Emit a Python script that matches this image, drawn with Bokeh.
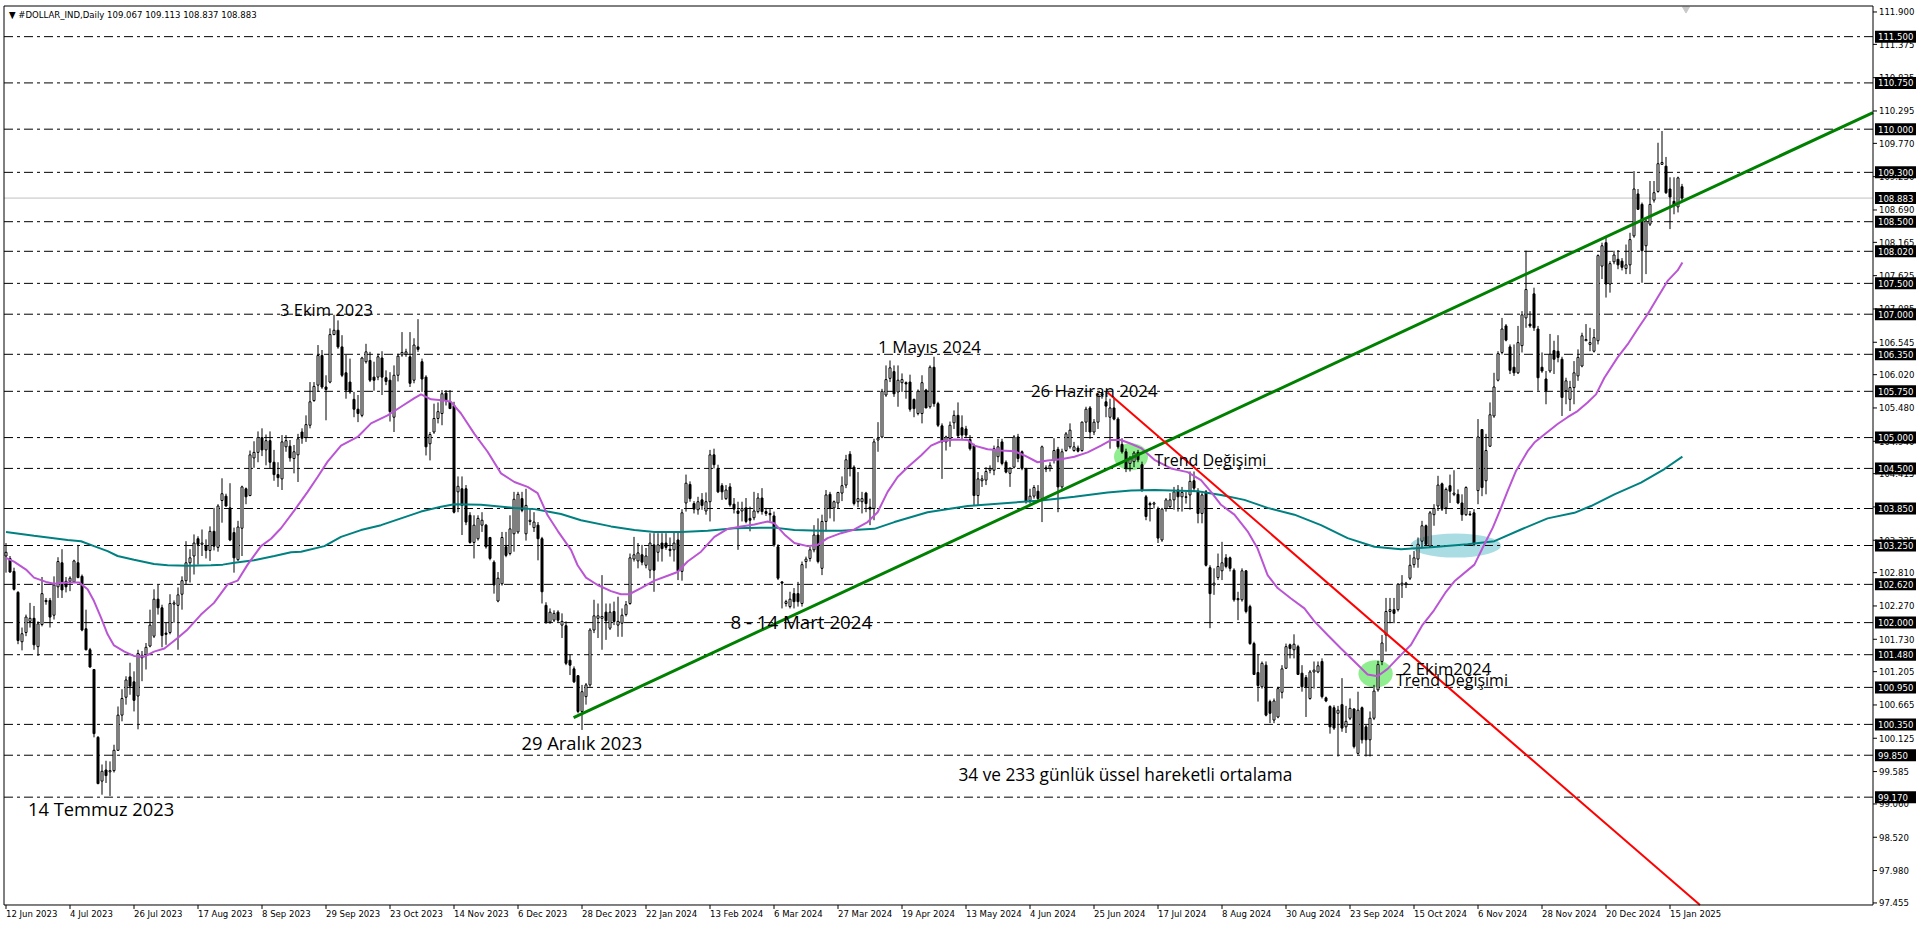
from bokeh.plotting import figure
from bokeh.models import Range1d, ColumnDataSource
from bokeh.embed import file_html
from bokeh.resources import INLINE
from bokeh.core.properties import value

# ---------------- data ----------------
opens = [103.08,103.04,102.83,102.49,101.69,101.84,102.02,102.07,101.61,101.97,
102.36,102.36,102.12,102.58,102.97,102.67,102.67,102.66,102.97,102.75,
101.90,101.56,101.24,100.14,99.43,99.61,99.58,99.60,99.93,100.50,
100.79,101.12,101.04,100.81,101.43,101.48,101.62,101.78,102.38,102.24,
101.83,101.84,102.30,102.28,102.46,102.68,102.97,103.08,103.36,103.27,
103.25,103.17,103.48,103.22,103.98,104.05,103.86,103.46,103.02,103.53,
104.17,104.06,104.67,104.76,105.00,104.80,104.95,104.60,104.40,104.33,
104.85,104.86,104.66,104.72,105.09,105.00,105.20,105.60,105.85,106.33,
105.82,105.90,106.67,106.74,106.47,106.05,105.90,105.62,105.46,105.36,
106.23,106.25,105.98,105.98,106.29,105.97,105.93,105.33,106.01,106.34,
106.35,106.31,105.93,106.47,106.23,105.98,104.90,105.09,105.31,105.39,
105.72,105.58,105.52,104.12,104.17,104.17,103.74,103.30,103.36,103.58,
103.58,103.38,102.98,102.35,102.63,103.23,103.12,103.44,103.47,104.01,
103.44,103.64,103.54,103.58,103.36,102.28,102.01,102.04,102.17,101.96,
101.95,101.39,101.25,101.14,100.56,100.80,100.99,101.88,102.07,102.07,
102.17,101.91,102.18,101.96,101.99,102.13,102.31,103.03,103.00,103.10,
102.93,102.85,103.26,103.14,103.29,103.29,103.19,103.18,103.34,102.83,
103.94,104.24,103.93,103.83,103.99,103.81,103.96,104.72,104.50,104.22,
104.01,104.20,103.92,103.81,103.81,103.86,103.69,103.70,103.80,104.02,
103.80,103.77,103.73,103.23,102.66,102.31,102.26,102.47,102.47,102.31,
102.99,103.04,103.18,103.42,102.88,103.64,104.08,103.86,103.94,104.10,
104.23,104.73,104.52,103.96,103.96,104.10,103.87,103.85,104.96,105.01,
105.69,105.96,106.07,105.74,105.89,105.89,105.90,105.62,105.39,105.39,
105.77,105.50,106.14,105.55,105.19,104.93,104.98,105.24,105.36,105.16,
105.14,104.97,104.87,104.06,104.30,104.31,104.47,104.47,104.69,104.93,
104.60,104.42,104.52,105.01,104.77,104.49,103.98,104.05,104.13,104.01,
104.51,104.50,104.63,104.81,104.20,104.79,104.85,104.79,104.83,104.79,
105.25,105.48,105.09,105.25,105.69,105.58,105.33,105.48,105.30,104.89,
104.77,104.58,104.61,104.76,104.56,104.04,103.93,103.92,103.84,103.34,
103.85,103.88,103.99,104.15,104.04,104.04,104.07,104.30,104.13,103.77,
104.12,102.89,102.61,102.73,102.84,103.05,103.05,102.85,102.39,102.37,
102.84,102.26,101.66,101.19,100.96,101.31,100.72,100.42,100.47,100.87,
101.26,101.64,101.56,101.61,101.18,101.11,100.77,101.20,101.20,101.37,
100.78,100.64,100.62,100.53,100.67,100.31,100.45,100.60,99.88,100.62,
100.31,100.10,100.45,100.91,101.37,101.80,102.18,102.21,102.21,102.61,
102.62,102.72,102.94,103.03,103.32,103.57,103.24,103.75,103.89,104.25,
103.86,104.22,104.08,104.08,103.94,103.75,103.76,103.78,104.14,105.13,
104.30,104.86,105.35,105.93,106.38,106.81,106.47,106.14,106.05,106.49,
106.94,106.84,107.33,106.76,106.14,105.95,106.08,106.41,106.40,106.27,
105.76,105.62,105.81,106.00,106.16,106.57,106.51,106.40,106.57,107.78,
108.16,107.49,107.85,107.89,107.86,107.74,107.80,108.27,108.95,108.78,
108.11,108.46,108.85,108.99,109.43,109.40,109.03,108.83,108.74,109.067]

highs = [103.29,103.08,102.89,102.51,101.92,102.13,102.32,102.27,102.02,102.74,
102.40,102.40,102.75,103.06,103.19,102.74,102.75,103.02,103.26,102.78,
102.21,101.59,101.24,100.16,99.70,99.76,99.75,100.02,100.64,100.92,
101.13,101.35,101.21,101.56,101.54,101.67,102.21,102.54,102.61,102.29,
102.00,102.46,102.36,102.57,102.75,103.32,103.19,103.43,103.40,103.51,
103.35,103.56,103.86,103.92,104.34,104.09,104.26,103.54,103.65,104.22,
104.19,104.79,104.94,105.10,105.15,105.05,105.10,104.80,104.60,105.04,
105.04,104.96,104.88,105.06,105.15,105.36,105.90,105.90,106.50,106.42,
106.01,106.77,106.99,106.90,106.66,106.34,106.28,105.74,105.69,106.31,
106.52,106.39,106.23,106.36,106.40,106.09,106.06,106.17,106.36,106.71,
106.44,106.71,106.61,106.92,106.28,106.01,105.09,105.55,105.57,105.77,
105.77,105.77,105.58,104.37,104.37,104.23,103.79,103.74,103.74,103.79,
103.60,103.39,103.01,102.82,103.47,103.47,103.74,104.12,104.12,104.12,
104.17,103.85,103.79,103.63,103.39,102.33,102.23,102.20,102.20,102.15,
102.02,101.48,101.29,101.15,100.99,101.02,101.91,102.37,102.31,102.77,
102.31,102.31,102.34,102.42,102.23,102.35,103.12,103.39,103.29,103.26,
103.21,103.45,103.45,103.45,103.45,103.45,103.38,103.48,103.48,103.84,
104.40,104.29,103.97,104.04,104.10,104.11,104.80,104.82,104.56,104.26,
104.23,104.26,104.02,103.96,103.96,104.02,103.88,104.12,104.10,104.18,
103.86,103.84,103.80,103.27,102.67,102.37,102.50,102.56,102.66,102.99,
103.07,103.23,103.58,103.69,103.75,104.15,104.12,103.98,104.12,104.37,
104.72,104.78,104.55,104.44,104.12,104.12,104.01,104.98,105.25,105.79,
106.17,106.25,106.17,106.17,106.04,105.91,106.02,105.63,105.78,106.01,
105.79,106.17,106.31,105.58,105.23,105.03,105.26,105.44,105.57,105.36,
105.19,105.04,104.90,104.44,104.39,104.52,104.55,104.87,104.98,104.98,
104.63,104.52,105.04,105.06,104.79,104.51,104.17,104.23,104.23,104.87,
104.55,104.60,104.99,104.85,104.82,105.09,105.23,104.93,104.87,105.26,
105.50,105.51,105.30,105.71,105.74,105.74,105.63,105.66,105.33,104.99,
104.82,104.70,104.78,104.80,104.61,104.07,103.96,103.96,103.88,103.86,
104.02,104.10,104.20,104.23,104.20,104.12,104.45,104.45,104.18,104.10,
104.15,102.93,102.88,103.12,103.31,103.11,103.07,102.88,102.50,102.88,
102.85,102.29,101.69,101.49,101.37,101.37,100.75,100.77,100.96,101.31,
101.66,101.66,101.81,101.64,101.31,101.15,101.23,101.37,101.37,101.42,
100.80,100.66,100.66,100.65,101.10,100.65,100.77,100.61,100.88,100.64,
100.34,100.56,100.99,101.38,101.80,102.40,102.40,102.40,102.64,102.77,
102.66,103.10,103.16,103.38,103.65,103.59,103.81,103.92,104.38,104.27,
104.19,104.40,104.47,104.16,104.08,104.21,103.81,103.84,105.30,105.13,
105.06,105.57,106.05,106.40,106.94,106.84,106.51,106.51,106.81,107.05,
108.03,107.05,107.43,106.81,106.38,106.08,106.68,106.57,106.66,106.31,
105.97,105.92,106.24,106.43,106.70,106.84,106.78,106.76,107.97,108.16,
108.24,107.86,108.03,108.04,107.91,108.13,108.32,109.32,109.03,108.81,
108.54,109.16,109.16,109.78,109.97,109.55,109.22,109.22,109.23,109.113]

lows = [102.81,102.81,102.52,101.65,101.55,101.78,101.92,101.56,101.46,101.94,
102.29,101.92,102.05,102.40,102.40,102.49,102.51,102.65,102.72,101.86,
101.55,101.27,100.14,99.38,99.21,99.40,99.19,99.57,99.92,100.40,
100.67,100.83,100.56,100.27,101.05,101.24,101.60,101.75,102.13,101.60,
101.64,101.81,102.00,101.56,102.21,102.62,102.65,102.78,102.94,103.08,
103.04,103.00,103.17,103.15,103.62,103.88,103.32,102.81,103.00,103.08,
103.92,104.05,104.51,104.60,104.70,104.55,104.50,104.30,104.20,104.15,
104.77,104.61,104.42,104.28,104.90,104.93,105.15,105.58,105.74,105.79,
105.28,105.88,106.66,106.44,105.98,105.63,105.71,105.33,105.25,105.33,
106.20,105.90,105.76,105.93,105.69,105.85,105.26,105.09,105.91,106.31,
106.31,105.82,105.88,106.39,105.74,104.71,104.63,105.06,105.23,105.20,
105.52,105.47,103.77,103.79,103.42,103.58,103.28,103.04,103.33,103.47,
103.20,103.01,102.47,102.33,102.60,103.06,103.09,103.15,103.44,103.79,
103.33,103.58,103.47,103.01,102.31,101.98,101.98,102.01,102.01,101.75,
101.31,101.15,101.02,100.53,100.26,100.67,100.96,101.83,101.75,101.56,
101.72,101.88,101.96,101.77,101.77,102.10,102.29,102.99,102.88,102.93,
102.88,102.72,102.50,102.99,102.99,103.18,103.07,102.99,102.69,102.68,
103.80,103.96,103.77,103.75,103.83,103.75,103.64,104.50,104.10,103.99,
103.99,103.88,103.77,103.18,103.64,103.61,103.48,103.66,103.77,103.75,
103.73,103.64,103.23,102.69,102.23,102.26,102.23,102.23,102.26,102.26,
102.88,102.99,103.14,102.96,102.77,103.48,103.69,103.64,103.85,103.97,
104.18,104.37,103.90,103.87,103.77,103.79,103.58,103.66,104.77,104.99,
105.66,105.90,105.66,105.50,105.74,105.63,105.42,105.33,105.36,105.23,
105.48,105.47,105.50,105.17,104.33,104.79,104.85,105.14,105.01,104.96,
104.99,104.79,103.90,103.90,104.20,104.23,104.42,104.39,104.60,104.55,
104.42,104.20,104.50,104.60,104.47,103.93,103.93,104.01,103.98,103.63,
104.44,104.45,104.58,103.79,104.17,104.77,104.82,104.77,104.76,104.77,
105.09,104.98,105.04,105.14,105.63,105.33,104.82,105.28,104.82,104.74,
104.44,104.45,104.52,104.60,104.12,103.66,103.64,103.85,103.29,103.31,
103.80,103.85,103.83,103.80,103.80,103.93,103.83,104.12,103.61,103.61,
102.91,101.91,102.45,102.69,102.69,102.88,102.83,102.34,102.04,102.34,
102.15,101.64,101.15,100.72,100.93,100.48,100.37,100.37,100.45,100.77,
101.25,101.42,101.42,101.15,100.88,100.47,100.75,100.93,101.18,100.77,
100.71,100.20,100.26,99.83,100.23,100.21,100.42,99.96,99.86,100.04,
99.83,99.83,100.42,100.88,101.31,101.53,101.99,101.99,102.18,102.40,
102.56,102.69,102.89,102.89,103.21,103.24,103.21,103.57,103.81,103.81,
103.76,103.94,104.05,103.92,103.65,103.73,103.73,103.24,103.92,104.05,
104.08,104.85,105.32,105.91,106.35,106.56,106.03,106.00,106.03,106.38,
106.78,106.78,106.73,105.76,106.05,105.54,106.05,106.03,106.22,105.35,
105.54,105.43,105.54,105.92,106.14,106.57,106.40,106.38,106.51,107.57,
107.27,107.35,107.81,107.73,107.71,107.65,107.65,108.24,108.70,107.51,
107.65,108.43,108.81,108.97,109.42,108.95,108.38,108.62,108.65,108.837]

closes = [103.14,102.82,102.54,101.71,101.82,102.09,102.07,101.64,101.98,102.47,
102.34,102.09,102.61,102.99,102.53,102.58,102.72,103.00,102.73,101.88,
101.56,101.28,100.20,99.39,99.59,99.52,99.60,99.93,100.50,100.77,
101.07,100.97,100.74,101.50,101.47,101.60,101.96,102.38,102.24,101.79,
101.81,102.31,102.32,102.45,102.68,102.97,103.05,103.29,103.27,103.29,
103.17,103.48,103.24,103.89,104.09,103.89,103.34,103.05,103.55,104.20,
104.04,104.72,104.76,105.00,104.80,104.95,104.60,104.40,104.35,104.93,
104.95,104.67,104.77,104.98,104.99,105.21,105.58,105.83,106.33,105.82,
105.78,106.67,106.74,106.47,106.01,105.77,105.74,105.46,105.39,106.29,
106.39,105.93,105.93,106.31,105.98,105.91,105.42,106.01,106.32,106.38,
106.39,105.88,106.50,106.43,105.95,104.85,105.05,105.31,105.42,105.71,
105.61,105.47,103.79,104.21,103.90,103.63,103.30,103.58,103.69,103.66,
103.23,103.04,102.61,102.72,103.38,103.09,103.52,104.00,104.08,103.82,
103.90,103.66,103.63,103.36,102.50,102.01,102.17,102.15,102.04,102.02,
101.34,101.31,101.04,100.56,100.88,100.99,101.88,102.11,102.11,102.10,
102.03,102.17,102.02,102.02,102.12,102.29,103.05,103.10,103.13,102.98,
103.08,103.29,102.85,103.26,103.20,103.22,103.17,103.29,102.84,103.78,
104.26,104.01,103.84,103.96,103.90,103.96,104.72,104.56,104.12,104.12,
104.15,103.91,103.84,103.77,103.85,103.64,103.66,103.81,104.02,103.80,
103.77,103.75,103.26,102.72,102.64,102.34,102.38,102.34,102.34,102.94,
103.03,103.18,103.42,102.99,103.64,104.07,103.85,103.96,104.11,104.22,
104.64,104.50,103.93,104.01,104.01,103.93,103.84,104.93,104.99,105.75,
105.94,106.13,105.71,105.93,105.94,105.87,105.46,105.47,105.75,105.89,
105.48,106.14,105.55,105.20,104.93,105.01,105.20,105.36,105.03,105.04,
105.04,104.82,104.06,104.33,104.33,104.45,104.50,104.82,104.85,104.58,
104.44,104.50,105.01,104.66,104.50,103.96,104.05,104.19,104.01,104.85,
104.49,104.55,104.79,104.20,104.77,105.06,105.12,104.85,104.78,105.25,
105.46,105.09,105.25,105.70,105.71,105.51,105.48,105.30,104.85,104.77,
104.50,104.67,104.75,104.64,104.15,103.72,103.91,103.94,103.37,103.84,
103.99,103.99,104.12,104.04,104.11,104.03,104.29,104.18,103.77,104.07,
102.93,102.47,102.64,102.91,102.97,102.91,102.88,102.37,102.37,102.84,
102.18,101.66,101.16,100.98,101.34,100.50,100.53,100.73,100.93,101.25,
101.61,101.58,101.65,101.16,100.96,100.96,101.20,101.23,101.30,100.80,
100.73,100.31,100.29,100.58,100.29,100.40,100.61,99.99,100.58,100.10,
100.10,100.45,100.89,101.32,101.67,102.18,102.21,102.15,102.62,102.64,
102.64,102.93,103.05,103.27,103.57,103.27,103.78,103.85,104.23,103.84,
104.16,104.13,104.10,103.94,103.75,104.19,103.75,103.27,105.01,104.19,
104.79,105.37,105.82,106.36,106.76,106.58,106.09,106.05,106.54,106.99,
107.40,106.81,106.78,105.97,106.08,105.76,106.35,106.27,106.30,105.65,
105.92,105.81,106.05,106.30,106.65,106.59,106.54,106.62,107.95,108.11,
107.49,107.82,107.96,107.80,107.76,107.80,108.21,109.03,108.70,108.03,
108.51,108.78,108.97,109.44,109.46,108.97,108.90,108.77,109.21,108.883]

# EMA 34 (orchid): bar position, value
ema34_x = [0,2,5,7,10,12,15.4,18.3,20.4,22,23.75,25.4,27,29.6,32,34.6,37,39.6,42.9,45.4,48.75,52,55.4,57.9,60.4,63.75,66.25,68.75,72.1,75.4,77.9,80.4,83.75,87.9,91.25,95.4,98.75,102.1,103.75,106.25,109.6,111.25,113.75,117.1,120.4,123.75,127.1,130.4,132.9,135.4,138,141.25,142.9,145,147.9,151.25,153.75,155.8,158.75,162.1,165.4,167.9,170.4,173.75,177.1,180.4,183.75,187.1,190.4,192.1,194.6,197.1,200.4,202.9,205.4,208.75,212.1,215.4,217.9,220.4,222.9,225.4,228.75,231.25,233.75,237.1,240.4,242.1,245.4,248.75,252.1,254.6,257.9,260.4,263.75,267.1,270.4,273.75,276.25,278.75,281.25,283.75,287.1,291.25,295.4,298.75,301.25,303.75,307.1,310.4,312.9,315.4,317.9,321.25,324.6,327.1,330.4,333.75,337.1,340.4,342.9,345.4,347.9,351.25,354,357,360,362.1,367.1,369.6,371.7,373.75,375.4,377.5,380.4,382.1,384.6,387.9,390.4,392.9,395.4,397.5,399.6,402.9,405.4,407.9,410.4,412.9,415.4,417.9,419.1]
ema34_y = [103.05,102.99,102.86,102.73,102.66,102.63,102.65,102.65,102.54,102.35,102.08,101.81,101.63,101.53,101.46,101.45,101.53,101.58,101.75,101.89,102.13,102.32,102.62,102.68,102.94,103.24,103.36,103.53,103.82,104.12,104.36,104.61,104.87,105.01,105.23,105.36,105.50,105.64,105.70,105.62,105.60,105.58,105.39,105.06,104.77,104.42,104.28,104.20,104.10,103.74,103.48,103.18,102.93,102.73,102.61,102.51,102.46,102.46,102.56,102.68,102.76,102.82,102.99,103.15,103.39,103.52,103.56,103.59,103.64,103.61,103.43,103.29,103.24,103.26,103.37,103.45,103.51,103.63,103.79,104.12,104.36,104.52,104.71,104.87,104.94,104.97,104.96,104.87,104.81,104.79,104.78,104.71,104.60,104.63,104.65,104.69,104.76,104.87,104.96,104.96,104.90,104.83,104.64,104.50,104.44,104.31,104.12,103.91,103.75,103.48,103.20,102.77,102.56,102.39,102.23,102.02,101.80,101.58,101.37,101.16,101.13,101.25,101.42,101.64,101.95,102.20,102.50,102.67,102.94,103.27,103.54,103.86,104.13,104.46,104.78,104.92,105.05,105.22,105.33,105.43,105.57,105.70,105.97,106.30,106.51,106.76,107.00,107.27,107.54,107.71,107.84]

# EMA 233 (teal)
ema233_x = [0,7,15.4,18.75,22,25.4,27.9,32,37,40.4,45.4,51.25,54.2,57.1,62,67.1,71.25,73.75,79.6,83.75,88.75,93.75,98.75,103.75,108.75,112.1,118.75,127.1,132.1,135.4,138.75,143.75,151.25,157.1,162.1,168.75,175.4,182.1,188.75,192.1,197.1,203.75,208.75,217.1,222.1,230.4,240.4,250.4,258.75,267.1,275.4,281.25,287.1,297.9,303.75,309.6,315.4,322.1,328.75,335.4,342.1,348.75,356.25,365.4,372.1,378.75,385.4,392.1,396.25,402.1,408.75,414.6,419.1]
ema233_y = [103.47,103.41,103.34,103.32,103.24,103.16,103.08,103.02,102.95,102.93,102.92,102.93,102.94,102.97,103.01,103.08,103.14,103.15,103.24,103.39,103.50,103.58,103.69,103.80,103.88,103.92,103.91,103.86,103.84,103.80,103.76,103.66,103.56,103.50,103.47,103.47,103.49,103.53,103.54,103.54,103.50,103.49,103.49,103.52,103.63,103.79,103.89,103.94,103.98,104.04,104.11,104.14,104.15,104.13,104.07,103.99,103.86,103.75,103.58,103.37,103.23,103.19,103.22,103.27,103.32,103.51,103.69,103.78,103.89,104.08,104.27,104.49,104.69]

# horizontal levels (dash-dot lines with black price boxes)
levels = [111.5,110.75,110.0,109.3,108.5,108.02,107.5,107.0,106.35,105.75,105.0,104.5,103.85,103.25,102.62,102.0,101.48,100.95,100.35,99.85,99.17]
last_price = 108.883
header_text = "\u25bc #DOLLAR_IND,Daily  109.067 109.113 108.837 108.883"

# price-scale ticks and time-scale ticks
price_ticks = [111.900,111.375,110.835,110.295,109.770,109.230,108.690,108.165,107.625,107.085,106.545,106.020,105.480,104.940,104.415,103.875,103.335,102.810,102.270,101.730,101.205,100.665,100.125,99.585,99.060,98.520,97.980,97.455]
date_labels = ["12 Jun 2023","4 Jul 2023","26 Jul 2023","17 Aug 2023","8 Sep 2023","29 Sep 2023","23 Oct 2023","14 Nov 2023","6 Dec 2023","28 Dec 2023","22 Jan 2024","13 Feb 2024","6 Mar 2024","27 Mar 2024","19 Apr 2024","13 May 2024","4 Jun 2024","25 Jun 2024","17 Jul 2024","8 Aug 2024","30 Aug 2024","23 Sep 2024","15 Oct 2024","6 Nov 2024","28 Nov 2024","20 Dec 2024","15 Jan 2025"]
date_tick_bars = [16 * k for k in range(len(date_labels))]

# trend lines (bar, price)
green_line_x = [141.9, 466.75]
green_line_y = [100.46, 110.27]
red_line_x = [275.4, 423.5]
red_line_y = [105.73, 97.42]

# highlight ellipses (bar, price, width in bars, height in price)
hl_x = [281.25, 342.4, 362.4]
hl_y = [104.69, 101.17, 103.25]
hl_w = [8.5, 8.6, 22.75]
hl_h = [0.44, 0.44, 0.39]

# text notes (left x in bars, middle y in price)
note_text = ["3 Ekim 2023", "1 May\u0131s 2024", "26 Haziran 2024", "Trend De\u011fi\u015fimi",
             "8 - 14 Mart 2024", "29 Aral\u0131k 2023", "14 Temmuz 2023", "2 Ekim2024",
             "Trend De\u011fi\u015fimi", "34 ve 233 g\u00fcnl\u00fck \u00fcssel hareketli ortalama"]
note_x = [68.5, 218.0, 256.25, 287.1, 181.1, 128.85, 5.5, 349.0, 347.5, 238.1]
note_y = [107.08, 106.47, 105.77, 104.64, 102.01, 100.06, 98.98, 101.26, 101.07, 99.53]

# ---------------- styles ----------------
hl_color = ["#90EE90", "#90EE90", "#AADDE3"]
note_font_size = ["16.5px", "17px", "16.8px", "16px", "18.7px", "18.4px", "18.3px", "16.6px", "16px", "17.3px"]

# ---------------- geometry (4 px per bar, 61.68 px per price unit) ----------------
PPB, PPU = 4.0, 61.68
X0, X1 = -0.5, 466.75         # chart area in bars
Y0, Y1 = 97.422, 111.997      # chart area in price
FIG_W, FIG_H = 1918, 925
XL = X0 - 3.5 / PPB           # figure left edge (chart border on pixel column 3, crisp)
YT = Y1 + 5.5 / PPU           # figure top edge (chart border on pixel row 5, crisp)

p = figure(width=FIG_W, height=FIG_H,
           x_range=Range1d(XL, XL + FIG_W / PPB), y_range=Range1d(YT - FIG_H / PPU, YT),
           x_axis_location=None, y_axis_location=None, output_backend="svg", toolbar_location=None,
           min_border_left=0, min_border_top=0, min_border_right=0, min_border_bottom=0,
           background_fill_color="white", border_fill_color="white")
p.grid.visible = False
p.outline_line_color = None

AX_FONT = value("DejaVu Sans Condensed")
AX_SIZE = "9.5px"

# highlight ellipses (behind everything)
p.ellipse(x=hl_x, y=hl_y, width=hl_w, height=hl_h, fill_color=hl_color, line_color=None)

# dash-dot level lines and the last-price line
p.segment(x0=[X0] * len(levels), y0=levels, x1=[X1] * len(levels), y1=levels,
          line_color="black", line_width=1, line_dash="9 4 3 4")
p.segment(x0=[X0], y0=[last_price], x1=[X1], y1=[last_price], line_color="#C0C0C0", line_width=1)

# candles
n = len(closes)
idx = list(range(n))
up = [i for i in idx if closes[i] >= opens[i]]
dn = [i for i in idx if closes[i] < opens[i]]
p.segment(x0=idx, y0=lows, x1=idx, y1=highs, line_color="black", line_width=1)
body_w = 2.0 / PPB
p.vbar(x=up, bottom=[opens[i] for i in up], top=[closes[i] for i in up], width=body_w,
       fill_color="white", line_color="black", line_width=1)
p.vbar(x=dn, bottom=[closes[i] for i in dn], top=[opens[i] for i in dn], width=body_w,
       fill_color="black", line_color="black", line_width=1)

# moving averages
p.line(ema233_x, ema233_y, line_color="#008080", line_width=2)
p.line(ema34_x, ema34_y, line_color="#BA55D3", line_width=2)

# trend lines
p.line(green_line_x, green_line_y, line_color="#008000", line_width=3)
p.line(red_line_x, red_line_y, line_color="#FF0000", line_width=2)

# notes
src = ColumnDataSource(dict(x=note_x, y=note_y, t=note_text, fs=note_font_size))
p.text(x="x", y="y", text="t", source=src, text_font=value("Open Sans"), text_font_size="fs",
       text_color="black", text_align="left", text_baseline="middle")

# chart shift marker
p.scatter(x=[420.0], y=[Y1 - 3 / PPU], marker="inverted_triangle", size=7,
          fill_color="#C8C8C8", line_color="#C8C8C8")

# header
p.text(x=[X0 + 5 / PPB], y=[Y1 - 8 / PPU], text=[header_text], text_font=AX_FONT,
       text_font_size=AX_SIZE, text_color="black", text_baseline="middle", text_align="left")

# chart border
p.line([X0, X0, X1, X1, X0], [Y0, Y1, Y1, Y0, Y0], line_color="black", line_width=1)

# price scale: ticks and labels
p.segment(x0=[X1] * len(price_ticks), y0=price_ticks, x1=[X1 + 4 / PPB] * len(price_ticks), y1=price_ticks,
          line_color="black", line_width=1)
p.text(x=[X1 + 6 / PPB] * len(price_ticks), y=price_ticks, text=["%.3f" % v for v in price_ticks],
       text_font=AX_FONT, text_font_size=AX_SIZE, text_color="black",
       text_align="left", text_baseline="middle")

# black price boxes for the levels
box_vals = levels + [last_price]
p.rect(x=[X1 + 22.5 / PPB] * len(box_vals), y=box_vals, width=41, height=12,
       width_units="screen", height_units="screen", fill_color="black", line_color=None)
p.text(x=[X1 + 5 / PPB] * len(box_vals), y=box_vals, text=["%.3f" % v for v in box_vals],
       text_font=AX_FONT, text_font_size=AX_SIZE, text_color="white",
       text_align="left", text_baseline="middle")

# time scale: ticks and left-aligned labels
p.segment(x0=date_tick_bars, y0=[Y0] * len(date_tick_bars), x1=date_tick_bars,
          y1=[Y0 - 4 / PPU] * len(date_tick_bars), line_color="black", line_width=1)
p.text(x=date_tick_bars, y=[Y0 - 9 / PPU] * len(date_tick_bars), text=date_labels,
       text_font=AX_FONT, text_font_size=AX_SIZE, text_color="black",
       text_align="left", text_baseline="middle")

open("out.html", "w").write(file_html(p, INLINE))
